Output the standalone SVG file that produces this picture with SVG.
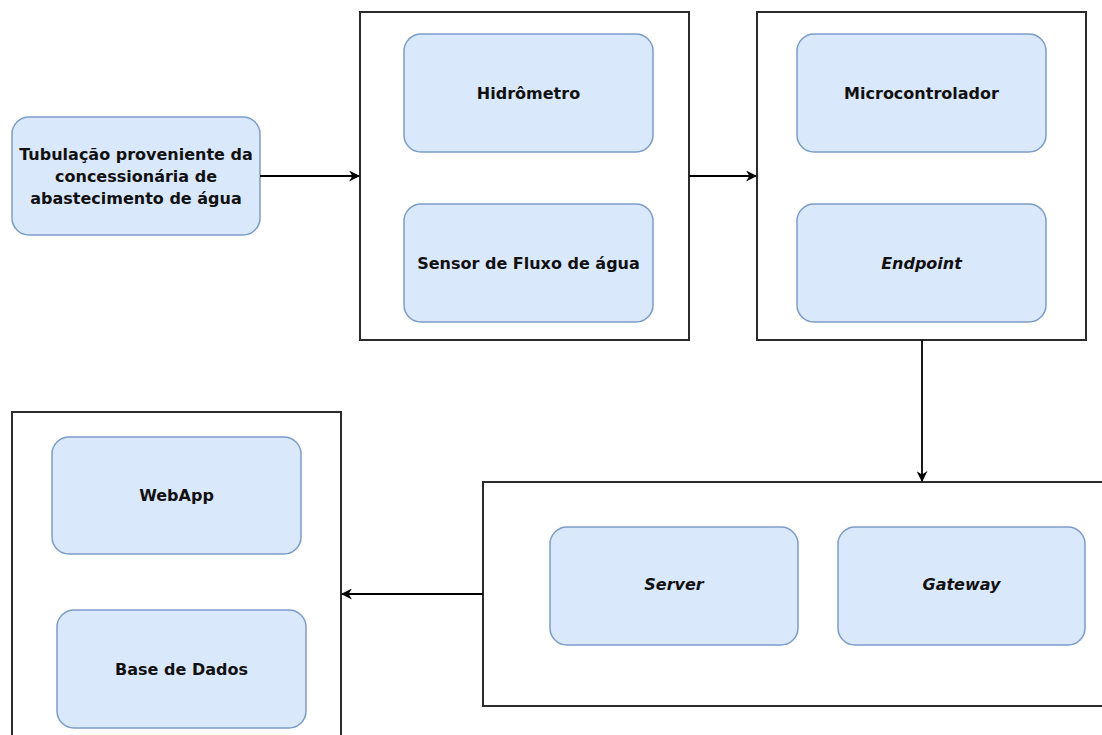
<svg xmlns="http://www.w3.org/2000/svg" width="1102" height="735" viewBox="0 0 1102 735">
  <defs>
    <marker id="arrow" viewBox="0 0 10 10" refX="9" refY="5" markerWidth="11" markerHeight="11" markerUnits="userSpaceOnUse" orient="auto">
      <path d="M0,0 L10,5 L0,10 L3,5 Z" fill="#000"/>
    </marker>
    <style>
      .box { fill: #ffffff; stroke: #2b2b2b; stroke-width: 2; }
      .item { fill: #dae8fc; stroke: #7c9cc8; stroke-width: 1.5; }
      .lbl { font-family: "DejaVu Sans", Verdana, sans-serif; font-size: 16px; font-weight: bold; fill: #111; text-anchor: middle; }
      .it { font-style: italic; }
      .edge { fill: none; stroke: #000; stroke-width: 1.8; marker-end: url(#arrow); }
    </style>
  </defs>
  <rect width="1102" height="735" fill="#ffffff"/>

  <!-- water supply pipe -->
  <g id="tubulacao">
    <rect class="item" x="12" y="117" width="248" height="118" rx="17"/>
    <text class="lbl" x="136" y="160">Tubulação proveniente da</text>
    <text class="lbl" x="136" y="182">concessionária de</text>
    <text class="lbl" x="136" y="204">abastecimento de água</text>
  </g>

  <!-- metering block -->
  <g id="medicao">
    <rect class="box" x="360" y="12" width="329" height="328"/>
    <g id="hidrometro">
      <rect class="item" x="404" y="34" width="249" height="118" rx="17"/>
      <text class="lbl" x="528.5" y="99">Hidrômetro</text>
    </g>
    <g id="sensor">
      <rect class="item" x="404" y="204" width="249" height="118" rx="17"/>
      <text class="lbl" x="528.5" y="269">Sensor de Fluxo de água</text>
    </g>
  </g>

  <!-- controller block -->
  <g id="controle">
    <rect class="box" x="757" y="12" width="329" height="328"/>
    <g id="microcontrolador">
      <rect class="item" x="797" y="34" width="249" height="118" rx="17"/>
      <text class="lbl" x="921.5" y="99">Microcontrolador</text>
    </g>
    <g id="endpoint">
      <rect class="item" x="797" y="204" width="249" height="118" rx="17"/>
      <text class="lbl it" x="921.5" y="269">Endpoint</text>
    </g>
  </g>

  <!-- network block -->
  <g id="rede">
    <rect class="box" x="483" y="482" width="640" height="224"/>
    <g id="server">
      <rect class="item" x="550" y="527" width="248" height="118" rx="17"/>
      <text class="lbl it" x="674" y="590">Server</text>
    </g>
    <g id="gateway">
      <rect class="item" x="838" y="527" width="247" height="118" rx="17"/>
      <text class="lbl it" x="961.5" y="590">Gateway</text>
    </g>
  </g>

  <!-- application block -->
  <g id="aplicacao">
    <rect class="box" x="12" y="412" width="329" height="340"/>
    <g id="webapp">
      <rect class="item" x="52" y="437" width="249" height="117" rx="17"/>
      <text class="lbl" x="176.5" y="501">WebApp</text>
    </g>
    <g id="base-dados">
      <rect class="item" x="57" y="610" width="249" height="118" rx="17"/>
      <text class="lbl" x="181.5" y="675">Base de Dados</text>
    </g>
  </g>

  <!-- connectors -->
  <g id="connectors">
    <path class="edge" d="M260,176 L359,176"/>
    <path class="edge" d="M689,176 L756,176"/>
    <path class="edge" d="M922,340 L922,481"/>
    <path class="edge" d="M483,594 L342,594"/>
  </g>
</svg>
